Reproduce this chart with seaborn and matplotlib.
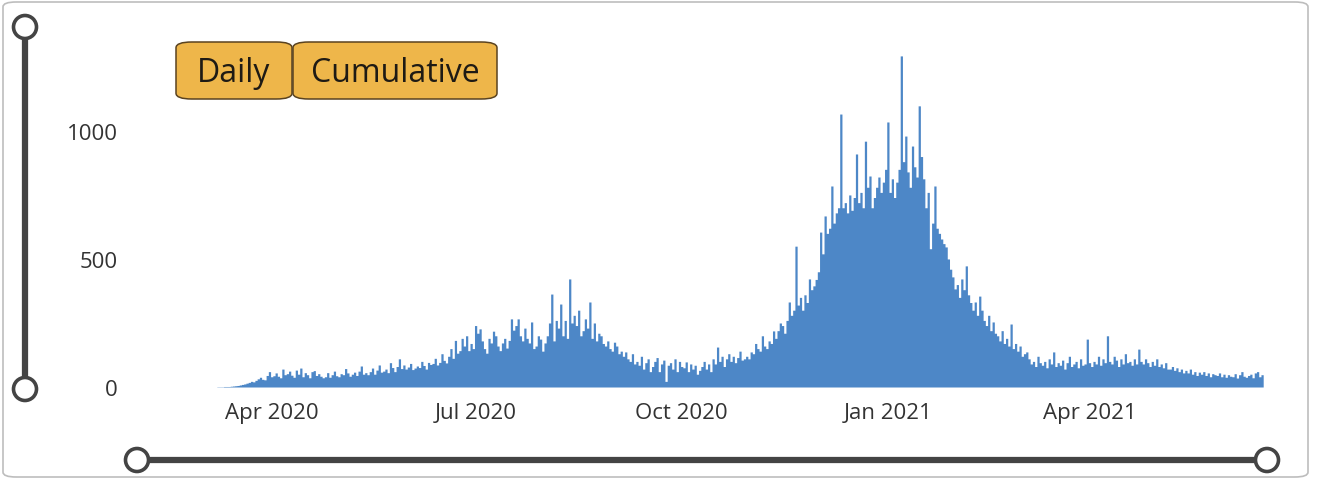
import pandas as pd
import numpy as np
import matplotlib
matplotlib.use("Agg")
import matplotlib.pyplot as plt
import matplotlib.dates as mdates
from matplotlib.patches import FancyBboxPatch, Circle
from matplotlib.lines import Line2D
import seaborn as sns

# daily new cases, one row per week starting Fri 6 Mar 2020
cases = [
    0, 0, 1, 1, 1, 2, 2,
    2, 3, 4, 5, 6, 8, 10,
    12, 15, 18, 22, 20, 26, 32,
    38, 30, 28, 45, 60, 40, 44,
    55, 42, 36, 70, 48, 52, 62,
    46, 38, 66, 50, 74, 40, 56,
    48, 36, 60, 64, 45, 52, 42,
    36, 40, 56, 38, 48, 62, 44,
    40, 52, 48, 72, 55, 42, 50,
    58, 45, 62, 82, 50, 56, 48,
    60, 74, 50, 66, 86, 58, 62,
    70, 56, 95, 76, 60, 80, 110,
    72, 86, 70, 78, 92, 68, 74,
    82, 76, 100, 84, 70, 96, 88,
    92, 112, 86, 96, 130, 104, 94,
    120, 150, 112, 182, 132, 142, 190,
    160, 200, 142, 170, 150, 240, 210,
    227, 180, 150, 132, 190, 172, 218,
    200, 160, 142, 172, 190, 152, 182,
    266, 222, 240, 266, 200, 180, 230,
    190, 172, 254, 150, 160, 200, 187,
    140, 172, 200, 250, 363, 180, 260,
    230, 324, 200, 260, 190, 422, 250,
    280, 240, 300, 200, 220, 266, 230,
    332, 190, 250, 180, 210, 200, 170,
    160, 180, 150, 140, 175, 160, 130,
    140, 120, 137, 110, 100, 130, 90,
    100, 85, 120, 70, 95, 110, 60,
    80, 100, 115, 60, 90, 105, 22,
    85, 95, 70, 110, 60, 100, 80,
    75, 98, 60, 90, 70, 85, 50,
    65, 80, 100, 70, 90, 60, 110,
    90, 156, 100, 120, 80, 110, 130,
    100, 120, 95, 115, 140, 105, 110,
    120, 110, 137, 130, 170, 150, 140,
    200, 160, 150, 180, 170, 219, 190,
    220, 250, 240, 210, 260, 332, 280,
    300, 550, 320, 350, 300, 360, 330,
    422, 380, 395, 420, 450, 605, 520,
    668, 600, 620, 785, 640, 680, 700,
    1066, 700, 720, 680, 750, 690, 740,
    910, 720, 760, 700, 960, 780, 824,
    700, 740, 780, 820, 760, 800, 850,
    1035, 760, 813, 740, 800, 850, 1293,
    880, 980, 840, 780, 941, 860, 820,
    1098, 900, 813, 700, 760, 540, 640,
    785, 620, 600, 578, 560, 547, 500,
    460, 430, 383, 400, 350, 422, 380,
    473, 360, 330, 300, 332, 280, 355,
    300, 260, 240, 280, 220, 254, 210,
    200, 180, 220, 170, 190, 160, 246,
    150, 170, 140, 160, 120, 130, 137,
    110, 90, 100, 80, 120, 95, 85,
    100, 75, 110, 90, 137, 80, 95,
    85, 105, 70, 95, 120, 80, 90,
    100, 75, 110, 85, 90, 187, 95,
    80, 100, 90, 120, 85, 110, 95,
    200, 100, 90, 120, 105, 80, 110,
    90, 130, 95, 100, 85, 110, 90,
    148, 100, 90, 110, 95, 80, 100,
    85, 110, 80, 90, 75, 95, 70,
    70, 80, 65, 75, 60, 70, 55,
    65, 55, 70, 50, 60, 45, 58,
    50, 60, 45, 55, 40, 52, 48,
    45, 55, 40, 50, 38, 48, 42,
    40, 52, 35, 48, 60, 42, 38,
    45, 50, 36, 55, 60, 40, 48,
]
start_date = "2020-03-06"
y_ticks = [0, 500, 1000]
buttons = ["Daily", "Cumulative"]

dates = pd.date_range(start_date, periods=len(cases), freq="D")
df = pd.DataFrame({"date": dates, "cases": cases})

W, H = 1319, 481
fig = plt.figure(figsize=(W / 100, H / 100), dpi=100)

# axes placed in pixel terms of the reference
ax_l, ax_r, ax_t, ax_b = 200, 1280, 40, 388
ax = fig.add_axes([ax_l / W, 1 - ax_b / H, (ax_r - ax_l) / W, (ax_b - ax_t) / H])

sns.histplot(data=df, x="date", weights="cases", discrete=True,
             element="step", fill=True, color="#4d87c7", alpha=1,
             linewidth=0, ax=ax)

ax.set_xlim(pd.Timestamp("2020-02-29"), pd.Timestamp("2021-06-25"))
ax.set_ylim(0, 1359)
ax.set_xlabel("")
ax.set_ylabel("")
ax.xaxis.set_major_locator(mdates.MonthLocator(bymonth=[1, 4, 7, 10]))
ax.xaxis.set_major_formatter(mdates.DateFormatter("%b %Y"))
ax.set_yticks(y_ticks)
for s in ax.spines.values():
    s.set_visible(False)
ax.tick_params(length=0, labelsize=16, colors="#333333")
ax.tick_params(axis="y", pad=59)
ax.tick_params(axis="x", pad=11)
for lab in ax.get_xticklabels() + ax.get_yticklabels():
    lab.set_fontfamily("Open Sans")

# outer rounded frame
fig.patches.append(FancyBboxPatch((3 / W, 3 / H), (W - 14) / W, (H - 6) / H,
                                  boxstyle="round,pad=0,rounding_size=0.01",
                                  transform=fig.transFigure, fill=False,
                                  edgecolor="#bdbdbd", linewidth=1.2))


def px(x, y):
    return x / W, 1 - y / H


# vertical slider
x0, y0 = px(25, 28)
x1, y1 = px(25, 390)
fig.add_artist(Line2D([x0, x1], [y0, y1], transform=fig.transFigure,
                      color="#444444", linewidth=4.5, solid_capstyle="butt"))
# horizontal slider
hx0, hy0 = px(137, 461)
hx1, hy1 = px(1267, 461)
fig.add_artist(Line2D([hx0, hx1], [hy0, hy1], transform=fig.transFigure,
                      color="#444444", linewidth=4.5, solid_capstyle="butt"))

for cx, cy in [(25, 28), (25, 390), (137, 461), (1267, 461)]:
    fig.add_artist(Circle((cx, H - cy), 11.5, transform=None,
                          facecolor="white", edgecolor="#444444",
                          linewidth=2.6, zorder=5))

# toggle buttons
btn_boxes = [(176, 292), (293, 497)]
for label, (bx0, bx1) in zip(buttons, btn_boxes):
    fx0, fy0 = px(bx0, 100)
    fx1, fy1 = px(bx1, 43)
    fig.patches.append(FancyBboxPatch((fx0, fy0), fx1 - fx0, fy1 - fy0,
                                      boxstyle="round,pad=0,rounding_size=0.012",
                                      transform=fig.transFigure,
                                      facecolor="#eeb64a", edgecolor="#5a4320",
                                      linewidth=1.1, zorder=6))
    fig.text((fx0 + fx1) / 2, (fy0 + fy1) / 2 - 0.004, label,
             ha="center", va="center", fontsize=23, color="#1e1a14",
             family="Open Sans", zorder=7)

fig.savefig("out.png", dpi=100)
